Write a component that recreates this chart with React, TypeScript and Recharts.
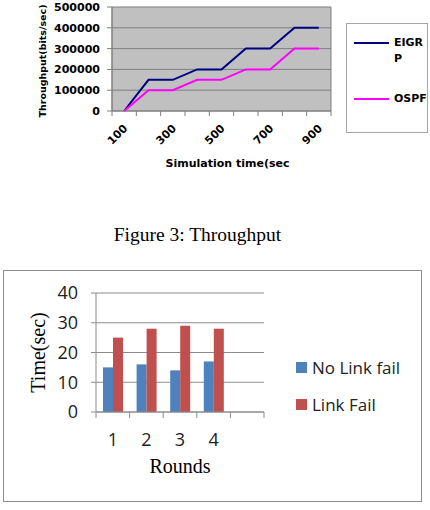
import { LineChart, Line, BarChart, Bar, XAxis, YAxis, CartesianGrid, Legend } from 'recharts';

// Throughput vs simulation time
const simTimes = [100, 200, 300, 400, 500, 600, 700, 800, 900];
const eigrpThroughput = [0, 150000, 150000, 200000, 200000, 300000, 300000, 400000, 400000];
const ospfThroughput = [0, 100000, 100000, 150000, 150000, 200000, 200000, 300000, 300000];
const timeLabels = [100, 300, 500, 700, 900];
const throughputTicks = [0, 100000, 200000, 300000, 400000, 500000];

// Convergence time per round
const rounds = ['1', '2', '3', '4', ''];
const noLinkFail = [15, 16, 14, 17, null];
const linkFail = [25, 28, 29, 28, null];
const timeTicks = [0, 10, 20, 30, 40];
const roundSeries = ['No Link fail', 'Link Fail'];

const step = simTimes[1] - simTimes[0];
const timeEdges = [...simTimes.map(t => t - step / 2), simTimes[simTimes.length - 1] + step / 2];
const timeAxisTicks = [...timeEdges, ...timeLabels].sort((a, b) => a - b);

const throughputData = simTimes.map((time, i) => ({ time, EIGRP: eigrpThroughput[i], OSPF: ospfThroughput[i] }));
const roundData = rounds.map((round, i) => ({ round, [roundSeries[0]]: noLinkFail[i], [roundSeries[1]]: linkFail[i] }));

const BOLD_FONT = '"DejaVu Sans", sans-serif';
const SANS = '"Open Sans", sans-serif';
const SERIF = '"Liberation Serif", "Times New Roman", serif';
const GRID_DARK = '#7f7f7f';
const GRID_LIGHT = '#8c8c8c';

function TimeTick({ x, y, payload }: any) {
  const v = payload.value;
  if (timeEdges.includes(v)) {
    return <line x1={x} x2={x} y1={y} y2={y + 5} stroke={GRID_DARK} />;
  }
  const tx = x + 4;
  const ty = y + 18;
  return (
    <text x={tx} y={ty} transform={`rotate(-45, ${tx}, ${ty})`} textAnchor="end"
      fontFamily={BOLD_FONT} fontWeight="bold" fontSize={11} fill="#000">
      {v}
    </text>
  );
}

function RoundTick({ x, y, payload, index, width }: any) {
  const half = payload.offset ?? width / rounds.length / 2;
  return (
    <g>
      <line x1={x - half} x2={x - half} y1={y} y2={y + 6} stroke={GRID_LIGHT} />
      {index === rounds.length - 1 && <line x1={x + half} x2={x + half} y1={y} y2={y + 6} stroke={GRID_LIGHT} />}
      <text x={x} y={y + 34} textAnchor="middle" fontFamily={SANS} fontSize={18} fill="#222">
        {payload.value}
      </text>
    </g>
  );
}

function ThroughputLegend({ payload }: any) {
  return (
    <div style={{ width: 82, height: 110, boxSizing: 'border-box', border: '1px solid #a6a6a6', background: '#fff', paddingTop: 11, paddingLeft: 7 }}>
      {payload.map((item: any) => (
        <div key={item.value} style={{ display: 'flex', alignItems: 'flex-start', height: 56 }}>
          <div style={{ width: 36, height: 2, marginTop: 7, background: item.color }} />
          <div style={{ width: 34, marginLeft: 5, lineHeight: '16px', wordBreak: 'break-all', fontFamily: BOLD_FONT, fontWeight: 'bold', fontSize: 11, color: '#000' }}>
            {item.value}
          </div>
        </div>
      ))}
    </div>
  );
}

function RoundLegend({ payload }: any) {
  const items = [...payload].sort((a: any, b: any) => roundSeries.indexOf(a.value) - roundSeries.indexOf(b.value));
  return (
    <div>
      {items.map((item: any) => (
        <div key={item.value} style={{ display: 'flex', alignItems: 'center', height: 37 }}>
          <div style={{ width: 11, height: 11, background: item.color }} />
          <div style={{ marginLeft: 5, fontFamily: SANS, fontSize: 17, color: '#222', whiteSpace: 'nowrap' }}>{item.value}</div>
        </div>
      ))}
    </div>
  );
}

export default function App() {
  return (
    <div style={{ position: 'absolute', left: 0, top: 0, width: 430, height: 510, background: '#fff' }}>
      <LineChart width={430} height={178} data={throughputData} margin={{ top: 7, right: 99, bottom: 0, left: 0 }}>
        <CartesianGrid fill="#c0c0c0" stroke={GRID_DARK}
          verticalCoordinatesGenerator={({ offset }: any) => [offset.left, offset.left + offset.width]} />
        <XAxis dataKey="time" type="number" domain={[timeEdges[0], timeEdges[timeEdges.length - 1]]}
          ticks={timeAxisTicks} interval={0} tick={<TimeTick />} tickLine={false} tickSize={0} tickMargin={0}
          height={67} axisLine={{ stroke: GRID_DARK }}
          label={{ value: 'Simulation time(sec', position: 'insideBottom', offset: 11, dx: 6,
            style: { fontFamily: BOLD_FONT, fontWeight: 'bold', fontSize: 11, fill: '#000' } }} />
        <YAxis width={112} domain={[0, 500000]} ticks={throughputTicks} interval={0} tickSize={5} tickMargin={7}
          tick={{ fontFamily: BOLD_FONT, fontWeight: 'bold', fontSize: 11, fill: '#000' }}
          axisLine={{ stroke: GRID_DARK }} tickLine={{ stroke: GRID_DARK }}
          label={{ value: 'Throughput(bits/sec)', angle: -90, position: 'center', dx: -13, dy: 2,
            style: { fontFamily: BOLD_FONT, fontWeight: 'bold', fontSize: 9.5, fill: '#000' } }} />
        <Legend layout="vertical" align="center" verticalAlign="middle"
          wrapperStyle={{ left: 346, top: 23, width: 82 }} content={<ThroughputLegend />} />
        <Line dataKey="EIGRP" stroke="#000080" strokeWidth={2} dot={false} isAnimationActive={false} />
        <Line dataKey="OSPF" stroke="#ff00ff" strokeWidth={2} dot={false} isAnimationActive={false} />
      </LineChart>

      <div style={{ position: 'absolute', left: 0, top: 223, width: 395, textAlign: 'center', fontFamily: SERIF, fontSize: 19.5, lineHeight: '24px', color: '#000' }}>
        Figure 3: Throughput
      </div>

      <div style={{ position: 'absolute', left: 3, top: 270, width: 419, height: 232, boxSizing: 'border-box', border: '1px solid #8c8c8c' }}>
        <BarChart width={417} height={230} data={roundData} margin={{ top: 22, right: 157, bottom: 0, left: 0 }}
          barSize={10} barGap={0}>
          <CartesianGrid vertical={false} stroke={GRID_LIGHT} />
          <XAxis dataKey="round" interval={0} tick={<RoundTick />} tickLine={false} tickSize={0} tickMargin={0}
            height={89} axisLine={{ stroke: GRID_LIGHT }}
            label={{ value: 'Rounds', position: 'insideBottom', offset: 28,
              style: { fontFamily: SERIF, fontSize: 20, fill: '#000' } }} />
          <YAxis width={92} domain={[0, 40]} ticks={timeTicks} interval={0} tickSize={5} tickMargin={13}
            tick={{ fontFamily: SANS, fontSize: 18, fill: '#222' }}
            axisLine={{ stroke: GRID_LIGHT }} tickLine={{ stroke: GRID_LIGHT }}
            label={{ value: 'Time(sec)', angle: -90, position: 'center', dx: -12,
              style: { fontFamily: SERIF, fontSize: 20, fill: '#000' } }} />
          <Legend layout="vertical" align="center" verticalAlign="middle"
            wrapperStyle={{ left: 292, top: 78 }} content={<RoundLegend />} />
          <Bar dataKey={roundSeries[0]} fill="#4f81bd" isAnimationActive={false} />
          <Bar dataKey={roundSeries[1]} fill="#c0504d" isAnimationActive={false} />
        </BarChart>
      </div>
    </div>
  );
}
